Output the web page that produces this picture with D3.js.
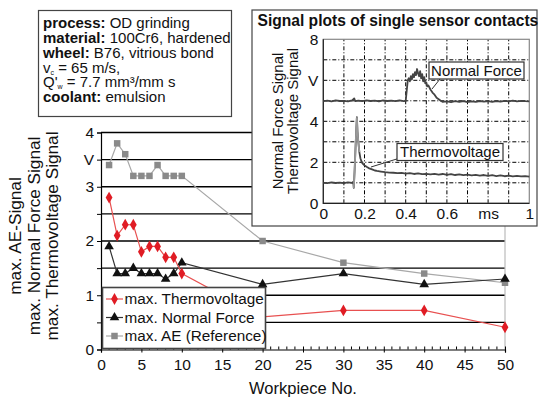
<!DOCTYPE html>
<html><head><meta charset="utf-8">
<script src="https://cdn.jsdelivr.net/npm/d3@7"></script>
<style>
html,body{margin:0;padding:0;background:#fff;}
svg{display:block;font-family:"Liberation Sans",Arial,sans-serif;}
</style></head>
<body><svg id="c" width="538" height="398"></svg>
<script>
// ---- main chart data ----
const workpieces = [1,2,3,4,5,6,7,8,9,10,20,30,40,50];
const thermoMax  = [2.8,2.1,2.3,2.3,1.8,1.9,1.9,1.7,1.7,1.4,0.6,0.72,0.72,0.41];
const forceMax   = [1.9,1.4,1.4,1.5,1.4,1.4,1.4,1.3,1.4,1.6,1.2,1.4,1.2,1.3];
const aeMax      = [3.4,3.8,3.6,3.2,3.2,3.2,3.4,3.2,3.2,3.2,2.0,1.6,1.4,1.23];
const yTickValues = [0,0.5,1,1.5,2,2.5,3,3.5,4];
const yTickLabels = ["0","","1","","2","","3","V","4"];
const xTickValues = [0,5,10,15,20,25,30,35,40,45,50];
const legendLabels = ["max. Thermovoltage","max. Normal Force","max. AE (Reference)"];
const yTitles = ["max. AE-Signal","max. Normal Force Signal","max. Thermovoltage Signal"];
const infoLines = [["process:"," OD grinding"],["material:"," 100Cr6, hardened"],["wheel:"," B76, vitrious bond"]];

// ---- inset data (time in ms, signal in V) ----
const forceT = [0,0.02,0.04,0.06,0.08,0.10,0.12,0.14,0.150,0.155,0.17,0.19,0.21,0.23,0.25,0.27,0.29,0.31,0.33,0.35,0.37,0.39,0.400,0.405,0.410,0.415,0.420,0.425,0.430,0.435,0.440,0.445,0.450,0.455,0.460,0.465,0.470,0.475,0.480,0.485,0.490,0.495,0.500,0.505,0.510,0.520,0.530,0.540,0.550,0.560,0.570,0.58,0.60,0.62,0.64,0.66,0.68,0.70,0.72,0.74,0.76,0.78,0.80,0.82,0.84,0.86,0.88,0.90,0.92,0.94,0.96,0.98,1.00];
const forceV = [4.98,5.01,4.97,5.02,4.99,5.00,4.97,5.02,5.12,4.98,5.01,4.98,5.02,4.99,5.01,4.97,5.02,4.99,5.01,4.98,5.02,4.98,5.00,5.5,6.0,6.1,5.95,6.2,6.05,6.3,6.15,6.4,6.25,6.55,6.35,6.2,6.45,6.1,6.3,5.95,6.15,5.85,5.9,5.7,5.75,5.55,5.4,5.3,5.15,5.08,5.0,4.95,4.97,4.93,4.98,4.95,4.99,4.94,4.97,4.95,4.99,4.96,4.98,4.95,4.99,4.96,5.0,4.97,5.01,4.97,5.0,4.98,4.97];
const thermoT = [0,0.02,0.04,0.06,0.08,0.10,0.12,0.14,0.145,0.148,0.152,0.156,0.160,0.163,0.166,0.170,0.175,0.180,0.185,0.19,0.20,0.21,0.22,0.23,0.24,0.25,0.26,0.28,0.30,0.32,0.34,0.36,0.38,0.40,0.42,0.44,0.46,0.48,0.50,0.52,0.54,0.56,0.58,0.60,0.62,0.64,0.66,0.68,0.70,0.72,0.74,0.76,0.78,0.80,0.82,0.84,0.86,0.88,0.90,0.92,0.94,0.96,0.98,1.00];
const thermoV = [1.00,0.98,1.02,0.99,1.01,0.98,1.02,1.00,1.05,0.75,1.6,2.6,3.6,4.2,3.5,3.0,2.5,2.2,2.05,1.95,1.85,1.78,1.72,1.68,1.64,1.6,1.58,1.55,1.52,1.50,1.49,1.47,1.48,1.45,1.47,1.43,1.46,1.42,1.44,1.41,1.44,1.40,1.43,1.39,1.42,1.38,1.41,1.37,1.40,1.36,1.39,1.35,1.38,1.34,1.37,1.33,1.36,1.32,1.35,1.31,1.34,1.31,1.33,1.30];
const insetXTicks = [0,0.2,0.4,0.6,0.8,1];
const insetXLabels = ["0","0.2","0.4","0.6","ms","1"];
const insetYTicks = [0,2,4,6,8];
const insetYLabels = ["0","2","4","V","8"];

const svg = d3.select("#c");
const FONT = '"Liberation Sans",Arial,sans-serif';

// ---------- main chart ----------
const x = d3.scaleLinear().domain([0,50]).range([101,505]);
const y = d3.scaleLinear().domain([0,4]).range([349.5,132.5]);

const g = svg.append("g");
g.selectAll("line.grid").data(yTickValues.filter(v=>v>0)).join("line")
  .attr("x1",x(0)).attr("x2",x(50)).attr("y1",d=>y(d)).attr("y2",d=>y(d))
  .attr("stroke","#000").attr("stroke-width",1.3);
g.append("line").attr("x1",x(50)).attr("x2",x(50)).attr("y1",y(4)).attr("y2",y(0))
  .attr("stroke","#bbb").attr("stroke-width",1.2);

const yAxis = d3.axisLeft(y).tickValues(yTickValues).tickSize(4).tickPadding(3)
  .tickFormat((d,i)=>yTickLabels[i]);
const ya = g.append("g").attr("transform",`translate(${x(0)},0)`).call(yAxis);
ya.select(".domain").attr("stroke","#000").attr("stroke-width",1.2);
ya.selectAll("text").attr("font-size",15.5).attr("font-family",FONT).attr("fill","#111");

const xAxis = d3.axisBottom(x).tickValues(xTickValues).tickSize(3).tickPadding(6).tickFormat(d3.format("d"));
const xa = g.append("g").attr("transform",`translate(0,${y(0)})`).call(xAxis);
xa.select(".domain").attr("stroke","#000").attr("stroke-width",1.2);
xa.selectAll(".tick line").attr("y1",-3).attr("y2",3);
xa.selectAll("text").attr("font-size",15.5).attr("font-family",FONT).attr("fill","#111");
const minorX = d3.range(0,51,1).filter(v=>v%5!==0);
g.selectAll("line.minor").data(minorX).join("line")
  .attr("x1",d=>x(d)).attr("x2",d=>x(d)).attr("y1",y(0)).attr("y2",y(0)-3)
  .attr("stroke","#000").attr("stroke-width",1);

const series = [
  {vals:aeMax, line:"#a8a8a8", mark:"#8a8a8a", sym:d3.symbolSquare, size:42},
  {vals:forceMax, line:"#333", mark:"#111", sym:d3.symbolTriangle, size:40},
  {vals:thermoMax, line:"#e85050", mark:"#e01c24", sym:d3.symbolDiamond, size:40}
];
const lineGen = d3.line().x(d=>x(d[0])).y(d=>y(d[1]));
series.forEach(s=>{
  const pts = workpieces.map((w,i)=>[w,s.vals[i]]);
  g.append("path").attr("d",lineGen(pts)).attr("fill","none").attr("stroke",s.line).attr("stroke-width",1.2);
  g.selectAll(null).data(pts).join("path")
    .attr("transform",d=>`translate(${x(d[0])},${y(d[1])})`)
    .attr("d",d3.symbol(s.sym,s.size)).attr("fill",s.mark);
});

// legend
const lg = svg.append("g");
lg.append("rect").attr("x",102.5).attr("y",287.5).attr("width",163).attr("height",61)
  .attr("fill","#fff").attr("stroke","#444").attr("stroke-width",1.6);
const legOrder = [series[2],series[1],series[0]];
legOrder.forEach((s,i)=>{
  const yy = 299 + i*18.5;
  lg.append("line").attr("x1",106).attr("x2",123).attr("y1",yy).attr("y2",yy).attr("stroke",s.line).attr("stroke-width",1.2);
  lg.append("path").attr("transform",`translate(114.5,${yy})`).attr("d",d3.symbol(s.sym,s.size)).attr("fill",s.mark);
  lg.append("text").attr("x",124.5).attr("y",yy+5.3).attr("font-size",15.3).attr("fill","#111").text(legendLabels[i]);
});

// y titles
yTitles.forEach((t,i)=>{
  svg.append("text").attr("transform",`translate(${21+i*18.5},${236}) rotate(-90)`)
    .attr("text-anchor","middle").attr("font-size",17.2).attr("fill","#111").text(t);
});
svg.append("text").attr("x",x(25)).attr("y",394).attr("text-anchor","middle")
  .attr("font-size",16.5).attr("fill","#111").text("Workpiece No.");

// ---------- info box ----------
const ib = svg.append("g");
ib.append("rect").attr("x",38.5).attr("y",10.5).attr("width",193).attr("height",106)
  .attr("fill","#fff").attr("stroke","#444").attr("stroke-width",1.2);
const ix = 43, iy0 = 28.3, lh = 14.75;
infoLines.forEach((l,i)=>{
  const t = ib.append("text").attr("x",ix).attr("y",iy0+i*lh).attr("font-size",15).attr("fill","#111");
  t.append("tspan").attr("font-weight","bold").text(l[0]);
  t.append("tspan").text(l[1]);
});
{
  const t = ib.append("text").attr("x",ix).attr("y",iy0+3*lh).attr("font-size",15).attr("fill","#111");
  t.append("tspan").text("v");
  t.append("tspan").attr("font-size",7).attr("dy",2).text("c");
  t.append("tspan").attr("dy",-2).text(" = 65 m/s,");
  const t2 = ib.append("text").attr("x",ix).attr("y",iy0+4*lh).attr("font-size",15).attr("fill","#111");
  t2.append("tspan").text("Q'");
  t2.append("tspan").attr("font-size",7).attr("dy",2).text("w");
  t2.append("tspan").attr("dy",-2).text(" = 7.7 mm³/mm s");
  const t3 = ib.append("text").attr("x",ix).attr("y",iy0+5*lh).attr("font-size",15).attr("fill","#111");
  t3.append("tspan").attr("font-weight","bold").text("coolant:");
  t3.append("tspan").text(" emulsion");
}

// ---------- inset ----------
const ins = svg.append("g");
ins.append("rect").attr("x",252).attr("y",10).attr("width",285).attr("height",216)
  .attr("fill","#fff").attr("stroke","#444").attr("stroke-width",1.2);
ins.append("text").attr("x",257.5).attr("y",26).attr("font-size",15.6).attr("font-weight","bold")
  .attr("fill","#111").text("Signal plots of single sensor contacts");
const ix2 = d3.scaleLinear().domain([0,1]).range([323.3,529.3]);
const iy2 = d3.scaleLinear().domain([0,8]).range([203.3,39.3]);
ins.selectAll("line.vg").data(d3.range(1,10).map(i=>i/10)).join("line")
  .attr("x1",d=>ix2(d)).attr("x2",d=>ix2(d)).attr("y1",iy2(0)).attr("y2",iy2(8))
  .attr("stroke","#000").attr("stroke-width",1).attr("stroke-dasharray","4,2,1,2");
ins.selectAll("line.hg").data(d3.range(1,8)).join("line")
  .attr("x1",ix2(0)).attr("x2",ix2(1)).attr("y1",d=>iy2(d)).attr("y2",d=>iy2(d))
  .attr("stroke","#000").attr("stroke-width",1).attr("stroke-dasharray","4,2,1,2");
ins.append("rect").attr("x",ix2(0)).attr("y",iy2(8)).attr("width",ix2(1)-ix2(0)).attr("height",iy2(0)-iy2(8))
  .attr("fill","none").attr("stroke","#888").attr("stroke-width",1.2);
ins.append("path").attr("d",`M${ix2(0)},${iy2(8)}V${iy2(0)}H${ix2(1)}`).attr("fill","none").attr("stroke","#222").attr("stroke-width",1.2);
const iya = ins.append("g").attr("transform",`translate(${ix2(0)},0)`)
  .call(d3.axisLeft(iy2).tickValues(insetYTicks).tickSize(0).tickPadding(5).tickFormat((d,i)=>insetYLabels[i]));
iya.select(".domain").remove();
iya.selectAll("text").attr("font-size",15.5).attr("font-family",FONT).attr("fill","#111");
const ixa = ins.append("g").attr("transform",`translate(0,${iy2(0)})`)
  .call(d3.axisBottom(ix2).tickValues(insetXTicks).tickSize(0).tickPadding(5).tickFormat((d,i)=>insetXLabels[i]));
ixa.select(".domain").remove();
ixa.selectAll("text").attr("font-size",15.5).attr("font-family",FONT).attr("fill","#111");
["Normal Force Signal","Thermovoltage Signal"].forEach((t,i)=>{
  ins.append("text").attr("transform",`translate(${283+i*15},${121}) rotate(-90)`)
    .attr("text-anchor","middle").attr("font-size",15).attr("fill","#111").text(t);
});
const sig = d3.line().x(d=>ix2(d[0])).y(d=>iy2(d[1]));
const fPts = forceT.map((t,i)=>[t,forceV[i]]);
const tPts = thermoT.map((t,i)=>[t,thermoV[i]]);
ins.append("path").attr("d",sig(fPts)).attr("fill","none").attr("stroke","#444").attr("stroke-width",1.8).attr("stroke-linejoin","round");
ins.append("path").attr("d",sig(tPts)).attr("fill","none").attr("stroke","#444").attr("stroke-width",1.8).attr("stroke-linejoin","round");
const spike = tPts.filter(d=>d[0]>=0.148 && d[0]<=0.175);
ins.append("path").attr("d",sig(spike)).attr("fill","none").attr("stroke","#999").attr("stroke-width",1.8);

function callout(text,bx,by,bw,bh,lx1,ly1,lx2,ly2){
  ins.append("line").attr("x1",lx1).attr("y1",ly1).attr("x2",lx2).attr("y2",ly2).attr("stroke","#333").attr("stroke-width",1);
  ins.append("rect").attr("x",bx).attr("y",by).attr("width",bw).attr("height",bh)
    .attr("fill","#fff").attr("stroke","#333").attr("stroke-width",1.2);
  ins.append("text").attr("x",bx+bw/2).attr("y",by+bh/2+5.3).attr("text-anchor","middle")
    .attr("font-size",15).attr("fill","#111").text(text);
}
callout("Normal Force",429,62,95,17,440,79,432,89);
callout("Thermovoltage",397,143.5,106,17,400,158,371,167);
</script></body></html>
